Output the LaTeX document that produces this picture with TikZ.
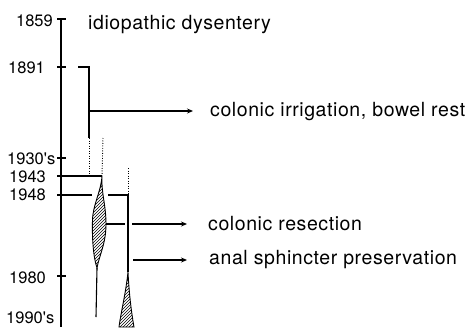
\documentclass[tikz,border=0pt]{standalone}
\usepackage{fontspec}
\setmainfont{TeX Gyre Heros}
\newfontfamily\yearfont{TeX Gyre Heros}
\newfontfamily\lblfont[LetterSpace=3]{TeX Gyre Heros}
\usetikzlibrary{arrows.meta,patterns}
\tikzset{
  axisln/.style={line width=2pt},
  tickln/.style={line width=1.2pt},
  ln/.style={line width=1.1pt},
  dotln/.style={line width=0.9pt, dash pattern=on 0.9pt off 1.6pt},
  yr/.style={font={\yearfont\fontsize{16.5}{17}\selectfont}, inner sep=0pt},
  lbl/.style={font={\lblfont\fontsize{19.5}{20}\selectfont}, anchor=base west, inner sep=0pt},
  spindle/.style={line width=0.9pt, pattern=north east lines},
}
\begin{document}
\begin{tikzpicture}[x=1pt,y=-1pt,>={Stealth[length=6pt,width=5pt]}]
  \useasboundingbox (0,0) rectangle (466,327);
  % time axis
  \coordinate (top) at (61,19);
  \coordinate (bot) at (61,327);
  \draw[axisln] (top) -- (bot);
  \foreach \nm/\yy in {a1859/19, a1891/67, a1930/158, a1943/176, a1948/195, a1980/276}
    {\coordinate (\nm) at (61,\yy); \draw[tickln] (57,\yy) -- (66,\yy);}
  % years
  \node[yr, anchor=base east] (y1859) at (53,26) {1859};
  \node[yr, anchor=base west] (y1891) at (8,73) {1891};
  \node[yr, anchor=base west] (y1930) at (7,164) {1930's};
  \node[yr, anchor=base west] (y1943) at (9,182) {1943};
  \node[yr, anchor=base west] (y1948) at (9,200) {1948};
  \node[yr, anchor=base west] (y1980) at (9,283) {1980};
  \node[yr, anchor=base west] (y1990) at (6,323.5) {1990's};
  % labels
  \node[lbl] (idio) at (88,29) {idiopathic dysentery};
  \node[lbl] (irrig) at (210,116) {colonic irrigation, bowel rest};
  \node[lbl] (resect) at (208,230) {colonic resection};
  \node[lbl] (sphinc) at (209,264) {anal sphincter preservation};
  % 1891 bracket
  \coordinate (b0) at (78,67);
  \coordinate (b1) at (89,111);
  \coordinate (b2) at (89,138);
  \coordinate (b3) at (89,176);
  \draw[ln] (b0) -| (b2);
  \draw[dotln] (b2) -- (b3);
  \draw[ln,->,shorten >=17pt] (b1) -- (b1 -| irrig.west);
  % 1943 spindle
  \coordinate (s1top) at (102,176);
  \coordinate (s1bot) at (97,268);
  \coordinate (s1end) at (96,317);
  \draw[ln] (a1943) -- (s1top);
  \draw[dotln] (103,138) -- (s1top);
  \draw[spindle] (s1top) .. controls (101,192) and (106,205) .. (106,224)
    .. controls (106,244) and (99,256) .. (s1bot)
    .. controls (93,256) and (92,236) .. (92.5,220)
    .. controls (93,204) and (101,192) .. (s1top) -- cycle;
  \draw[ln] (s1bot) -- (s1end);
  % 1948 spindle
  \coordinate (c0) at (92,195);
  \coordinate (c1) at (108,195);
  \coordinate (s2top) at (128,195);
  \coordinate (s2neck) at (128,272);
  \draw[ln] (a1948) -- (c0);
  \draw[ln] (c1) -- (s2top) -- (s2neck);
  \draw[dotln] (128,168) -- (s2top);
  \draw[spindle] (s2neck) .. controls (126,292) and (121,312) .. (119,327)
    -- (134,327) .. controls (131,310) and (129,292) .. (s2neck) -- cycle;
  % resection arrows
  \coordinate (r0) at (106,224);
  \coordinate (r1) at (125,224);
  \coordinate (r2) at (132,224);
  \coordinate (p0) at (133,260);
  \draw[ln] (r0) -- (r1);
  \draw[ln,->,shorten >=21pt] (r2) -- (r2 -| resect.west);
  \draw[ln,->,shorten >=22pt] (p0) -- (p0 -| sphinc.west);
\end{tikzpicture}
\end{document}
